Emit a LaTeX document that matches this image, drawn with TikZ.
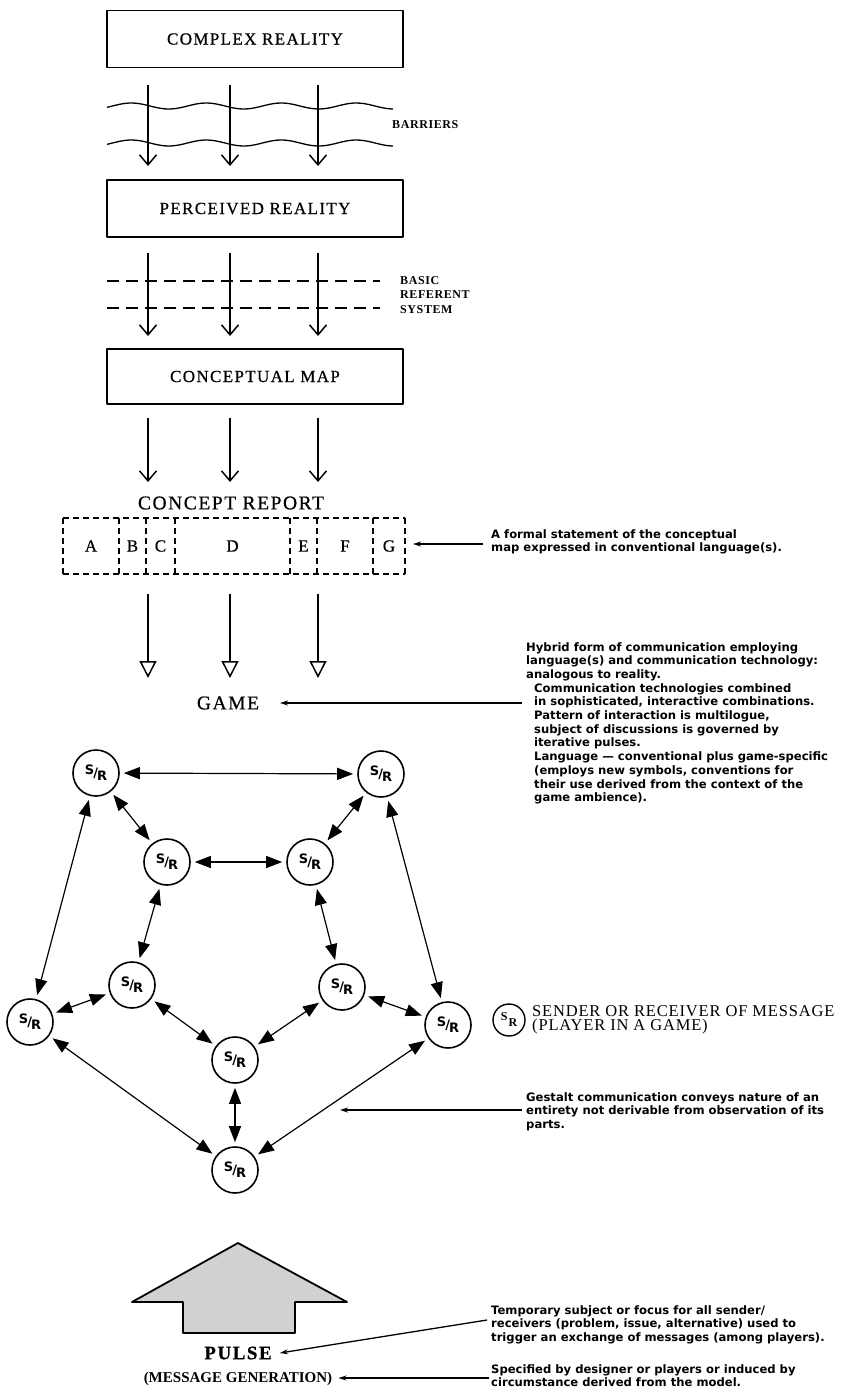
\documentclass[tikz,border=0pt]{standalone}
\usepackage{fontspec}
\setmainfont{Liberation Serif}
\newfontfamily\capsfont[LetterSpace=8,FakeBold=0.6]{Liberation Serif}
\newfontfamily\smallcapsfont[LetterSpace=5]{Liberation Serif}
\newfontfamily\descfont{DejaVu Sans}
\newfontfamily\srfont{DejaVu Sans}
\usetikzlibrary{arrows.meta}
\newcommand{\srmark}{\raisebox{3pt}{S}\kern-1pt/\kern-1pt\raisebox{-3pt}{R}}
\begin{document}
\begin{tikzpicture}[x=1pt,y=-1pt,line join=round,
  bigbox/.style={draw, line width=1.6pt, minimum width=296pt, minimum height=57pt, inner sep=0pt,
    font=\capsfont\fontsize{17}{20}\selectfont},
  flow/.style={line width=1.5pt, -{Straight Barb[length=10pt,width=17pt,line width=1.5pt]}},
  tri/.style={line width=1.5pt, -{Triangle[open,length=17pt,width=17pt,line width=1.5pt]}},
  dsh/.style={line width=1.5pt, dash pattern=on 6pt off 4pt},
  letter/.style={inner sep=0pt, font=\capsfont\fontsize{17}{20}\selectfont},
  player/.style={draw, circle, line width=1.6pt, minimum size=46pt, inner sep=0pt,
    font=\srfont\bfseries\fontsize{13}{13}\selectfont},
  net/.style={line width=1.2pt, {Triangle[length=16pt,width=12pt]}-{Triangle[length=16pt,width=12pt]},
    shorten >=4pt, shorten <=4pt},
  ptr/.style={line width=1.3pt, -{Stealth[length=8pt,width=5pt]}},
  desc/.style={align=left, anchor=north west, inner sep=0pt,
    font=\descfont\bfseries\fontsize{11.6}{13.7}\selectfont},
  smalllabel/.style={align=left, anchor=west, inner sep=0pt,
    font=\smallcapsfont\bfseries\fontsize{12}{14.5}\selectfont},
  biglabel/.style={inner sep=0pt, font=\capsfont\fontsize{19.5}{22}\selectfont}
]
\useasboundingbox (0,0) rectangle (849,1400);
\fill[white] (0,0) rectangle (849,1400);

% ---- boxes
\node[bigbox] (cr) at (255,39) {COMPLEX REALITY};
\node[bigbox] (pr) at (255,208.5) {PERCEIVED REALITY};
\node[bigbox, minimum height=55pt] (cm) at (255,376.5) {CONCEPTUAL MAP};

% ---- barriers
\foreach \yy in {106,143}{
  \draw[line width=1.3pt] plot[smooth, domain=107:393, samples=80] (\x, {\yy + 3*sin(4.8*\x)});
}
\node[smalllabel] (barriers) at (392,125) {BARRIERS};
\foreach \xx/\n in {148/1,230/2,318/3}{
  \coordinate (ta\n) at (\xx,85);
  \coordinate (tb\n) at (\xx,166);
  \draw[flow] (ta\n) -- (tb\n);
}

% ---- basic referent system
\foreach \yy in {281,308}{
  \draw[line width=1.5pt, dash pattern=on 12pt off 7pt] (107,\yy) -- (380,\yy);
}
\node[smalllabel] (brs) at (400,295) {BASIC\\REFERENT\\SYSTEM};
\foreach \xx/\n in {148/1,230/2,318/3}{
  \coordinate (ma\n) at (\xx,253);
  \coordinate (mb\n) at (\xx,336);
  \draw[flow] (ma\n) -- (mb\n);
}

% ---- conceptual map -> concept report
\foreach \xx/\n in {148/1,230/2,318/3}{
  \coordinate (ca\n) at (\xx,418);
  \coordinate (cb\n) at (\xx,482);
  \draw[flow] (ca\n) -- (cb\n);
}
\node[biglabel] (crep) at (231,503) {CONCEPT REPORT};

% dashed segmented report box
\draw[dsh] (63,518) -- (405,518);
\draw[dsh] (63,574) -- (405,574);
\foreach \xx in {63,119,146,175,290,317,373,405}{
  \draw[dsh] (\xx,518) -- (\xx,574);
}
\node[letter] (bA) at (91,546) {A};
\node[letter] (bB) at (132.5,546) {B};
\node[letter] (bC) at (160.5,546) {C};
\node[letter] (bD) at (232.5,546) {D};
\node[letter] (bE) at (303.5,546) {E};
\node[letter] (bF) at (345,546) {F};
\node[letter] (bG) at (389,546) {G};
\coordinate (gEdge) at (413,544);

\node[desc] (formal) at (491,529) {A formal statement of the conceptual\\map expressed in conventional language(s).};
\coordinate (formalEnd) at (483,544);
\draw[ptr] (formalEnd) -- (gEdge);

% ---- concept report -> game
\foreach \xx/\n in {148/1,230/2,318/3}{
  \coordinate (ga\n) at (\xx,594);
  \coordinate (gb\n) at (\xx,678);
  \draw[tri] (ga\n) -- (gb\n);
}
\node[biglabel] (game) at (228,703) {GAME};
\coordinate (gameEnd) at (522,703);
\coordinate (gameTip) at (280,703);
\draw[ptr] (gameEnd) -- (gameTip);

\node[desc] (hybrid) at (526,642) {Hybrid form of communication employing\\
language(s) and communication technology:\\
analogous to reality.\\
\hspace*{8pt}Communication technologies combined\\
\hspace*{8pt}in sophisticated, interactive combinations.\\
\hspace*{8pt}Pattern of interaction is multilogue,\\
\hspace*{8pt}subject of discussions is governed by\\
\hspace*{8pt}iterative pulses.\\
\hspace*{8pt}Language — conventional plus game-specific\\
\hspace*{8pt}(employs new symbols, conventions for\\
\hspace*{8pt}their use derived from the context of the\\
\hspace*{8pt}game ambience).};

% ---- players network
\node[player] (TL) at (96,773) {\srmark};
\node[player] (TR) at (381,774) {\srmark};
\node[player] (ML) at (167,862) {\srmark};
\node[player] (MR) at (310,862) {\srmark};
\node[player] (L2) at (132,985) {\srmark};
\node[player] (R2) at (342,987) {\srmark};
\node[player] (FL) at (30,1022) {\srmark};
\node[player] (FR) at (448,1025) {\srmark};
\node[player] (CC) at (235,1060) {\srmark};
\node[player] (BB) at (235,1170) {\srmark};

\draw[net] (TL) -- (TR);
\draw[net] (TL) -- (ML);
\draw[net] (TR) -- (MR);
\draw[net] (ML) -- (MR);
\draw[net] (TL) -- (FL);
\draw[net] (TR) -- (FR);
\draw[net] (ML) -- (L2);
\draw[net] (MR) -- (R2);
\draw[net] (L2) -- (FL);
\draw[net] (L2) -- (CC);
\draw[net] (R2) -- (CC);
\draw[net] (R2) -- (FR);
\draw[net] (FL) -- (BB);
\draw[net] (FR) -- (BB);
\draw[net] (CC) -- (BB);

% ---- legend
\node[draw, circle, line width=1.4pt, minimum size=32pt, inner sep=0pt,
  font=\fontsize{12}{12}\selectfont\bfseries] (legend) at (509,1020)
  {\raisebox{3pt}{S}\kern1pt\raisebox{-3pt}{R}};
\node[inner sep=0pt, anchor=west, align=left,
  font=\smallcapsfont\fontsize{16.5}{14.5}\selectfont] (legtext) at (532,1020)
  {SENDER OR RECEIVER OF MESSAGE\\(PLAYER IN A GAME)};

% ---- gestalt
\node[desc] (gestalt) at (526,1092) {Gestalt communication conveys nature of an\\entirety not derivable from observation of its\\parts.};
\coordinate (gestaltEnd) at (522,1110);
\coordinate (gestaltTip) at (340,1110);
\draw[ptr] (gestaltEnd) -- (gestaltTip);

% ---- pulse
\draw[line width=1.8pt, fill=black!18] (238,1243) -- (347,1302) -- (295,1302) -- (295,1333)
  -- (183,1333) -- (183,1302) -- (132,1302) -- cycle;
\node[inner sep=0pt, font=\capsfont\bfseries\fontsize{19}{22}\selectfont] (pulse) at (238,1353) {PULSE};
\node[inner sep=0pt, font=\bfseries\fontsize{15}{18}\selectfont] (msg) at (238,1379) {(MESSAGE GENERATION)};

\node[desc] (temp) at (491,1305) {Temporary subject or focus for all sender/\\receivers (problem, issue, alternative) used to\\trigger an exchange of messages (among players).};
\node[desc] (spec) at (491,1364) {Specified by designer or players or induced by\\circumstance derived from the model.};
\coordinate (tempEnd) at (487,1320);
\coordinate (specEnd) at (489,1378);
\draw[ptr] (tempEnd) -- ([xshift=8pt]pulse.east);
\draw[ptr] (specEnd) -- ([xshift=6pt]msg.east |- specEnd);
\end{tikzpicture}
\end{document}
